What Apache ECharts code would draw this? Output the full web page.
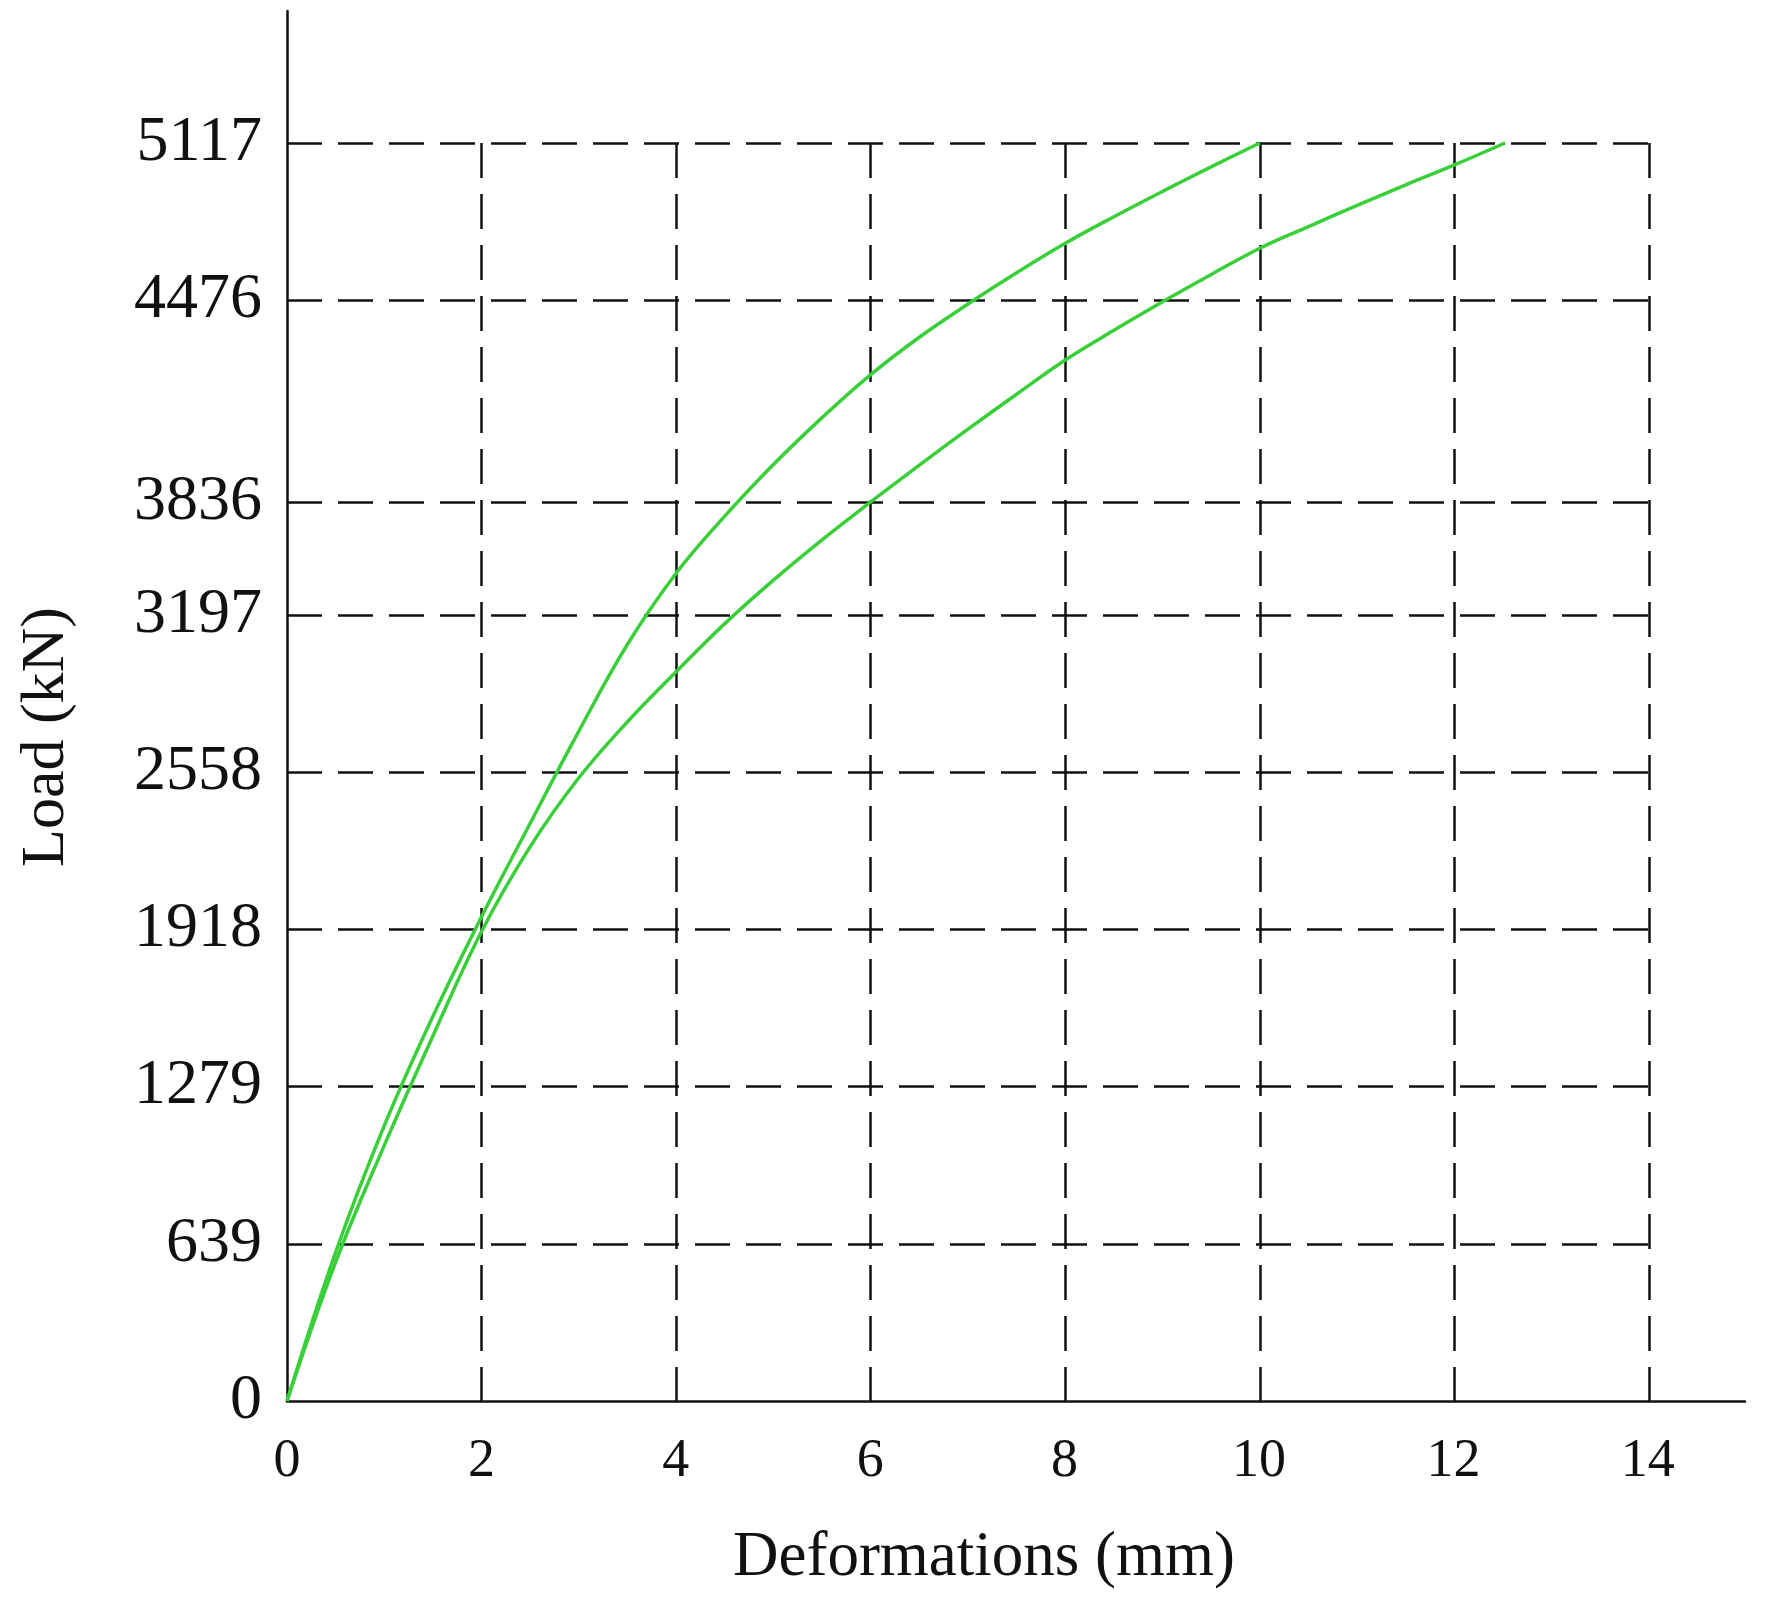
<!DOCTYPE html>
<html>
<head>
<meta charset="utf-8">
<title>Load - Deformation</title>
<script src="https://cdn.jsdelivr.net/npm/echarts@6/dist/echarts.min.js"></script>
<style>
  html, body { margin: 0; padding: 0; background: #fff; }
  #main { width: 1765px; height: 1599px; }
</style>
</head>
<body>
<div id="main"></div>
<script>
// x axis ticks (mm)
const xTicks = [0, 2, 4, 6, 8, 10, 12, 14];
// y axis labels (kN) and the kN value each labelled line sits at
// (the source figure draws its 3836 line lower, at about 3657 kN)
const yTickLabels = ['0', '639', '1279', '1918', '2558', '3197', '3836', '4476', '5117'];
const yTickAt = [0, 639, 1279, 1918, 2558, 3197, 3657, 4476, 5117];

// upper curve (deformation mm, load kN)
const curveAX = [0, 0.5, 1.0, 1.5, 2.0, 2.5, 3.0, 3.5, 4.0, 4.5, 5.0, 5.5, 6.0, 6.5, 7.0, 7.5, 8.0, 8.5, 9.0, 9.5, 10.0];
const curveAY = [0, 605, 1120, 1565, 1970, 2350, 2725, 3078, 3367, 3599, 3809, 4000, 4175, 4327, 4462, 4589, 4709, 4817, 4920, 5020, 5117];
// lower curve
const curveBX = [0, 0.5, 1.0, 1.5, 2.0, 2.5, 3.0, 3.5, 4.0, 4.5, 5.0, 5.5, 6.0, 6.5, 7.0, 7.5, 8.0, 8.5, 9.0, 9.5, 10.0, 10.5, 11.0, 11.5, 12.0, 12.52];
const curveBY = [0, 565, 1040, 1485, 1910, 2255, 2535, 2763, 2966, 3162, 3339, 3503, 3657, 3807, 3953, 4095, 4234, 4355, 4471, 4582, 4689, 4777, 4863, 4947, 5028, 5117];

const FONT = 'Liberation Serif';
const INK = '#111';
const GREEN = '#38cf38';

function pairs(xs, ys) {
  return xs.map((x, i) => [x, ys[i]]);
}

let myChart = echarts.init(document.getElementById('main'));
myChart.setOption({
  animation: false,
  backgroundColor: '#fff',
  grid: [
    // axes frame (axis lines run past the grid)
    { left: 287, right: 20, top: 11, bottom: 198 },
    // dashed grid box 0..14 x 0..5117
    { left: 287, right: 116, top: 143, bottom: 198 }
  ],
  xAxis: [
    {
      gridIndex: 0,
      type: 'value',
      min: 0,
      max: 15,
      axisLine: { show: true, lineStyle: { color: INK, width: 2.5 } },
      axisTick: { show: false },
      splitLine: { show: false },
      axisLabel: {
        customValues: xTicks,
        margin: 34,
        fontFamily: FONT,
        fontSize: 54,
        color: INK
      }
    },
    {
      gridIndex: 1,
      type: 'value',
      min: 0,
      max: 14,
      interval: 2,
      axisLine: { show: false },
      axisTick: { show: false },
      axisLabel: { show: false },
      splitLine: {
        show: true,
        showMinLine: false,
        lineStyle: { color: INK, width: 2.5, type: [35, 16] }
      },
      name: 'Deformations (mm)',
      nameLocation: 'middle',
      nameGap: 126,
      nameTextStyle: {
        fontFamily: FONT,
        fontSize: 63,
        color: INK,
        padding: [0, 0, 0, 32]
      }
    }
  ],
  yAxis: [
    {
      gridIndex: 0,
      type: 'value',
      min: 0,
      max: 5654,
      axisLine: { show: true, lineStyle: { color: INK, width: 2.5 } },
      axisTick: { show: false },
      splitLine: { show: false },
      axisLabel: {
        customValues: yTickAt,
        margin: 25,
        fontFamily: FONT,
        fontSize: 64,
        color: INK,
        formatter: function (v) {
          const i = yTickAt.indexOf(v);
          return i >= 0 ? yTickLabels[i] : '';
        }
      },
      name: 'Load (kN)',
      nameLocation: 'middle',
      nameGap: 209,
      nameTextStyle: {
        fontFamily: FONT,
        fontSize: 62,
        color: INK,
        padding: [0, 62, 0, 0]
      }
    },
    {
      gridIndex: 1,
      type: 'value',
      min: 0,
      max: 5117,
      axisLine: { show: false },
      axisTick: { show: false, customValues: yTickAt },
      axisLabel: { show: false },
      splitLine: {
        show: true,
        showMinLine: false,
        lineStyle: { color: INK, width: 2.5, type: [35, 16] }
      }
    }
  ],
  series: [
    {
      name: 'upper',
      type: 'line',
      xAxisIndex: 1,
      yAxisIndex: 1,
      data: pairs(curveAX, curveAY),
      smooth: 0.4,
      showSymbol: false,
      clip: false,
      lineStyle: { color: GREEN, width: 3.5 },
      z: 5
    },
    {
      name: 'lower',
      type: 'line',
      xAxisIndex: 1,
      yAxisIndex: 1,
      data: pairs(curveBX, curveBY),
      smooth: 0.4,
      showSymbol: false,
      clip: false,
      lineStyle: { color: GREEN, width: 3.5 },
      z: 5
    }
  ]
});
</script>
</body>
</html>
